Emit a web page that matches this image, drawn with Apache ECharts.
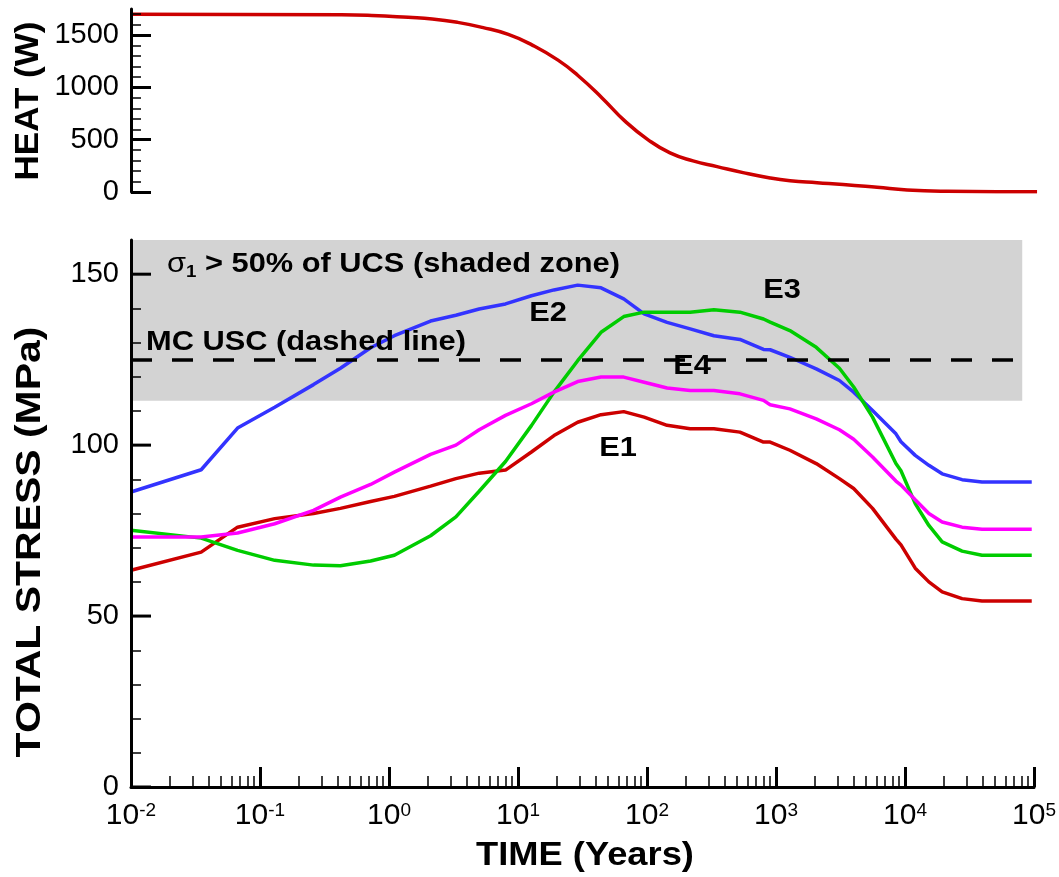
<!DOCTYPE html>
<html>
<head>
<meta charset="utf-8">
<script src="https://cdn.jsdelivr.net/npm/echarts@6/dist/echarts.min.js"></script>
<style>
  html, body { margin: 0; padding: 0; background: #fff; }
  #chart { width: 1059px; height: 877px; }
</style>
</head>
<body>
<div id="chart"></div>
<script>
// --- data ---
var heatTime = [0.01, 0.42, 0.72, 1.37, 2.1, 3.3, 5.1, 8.1, 12.4, 19.6, 27.9, 42.8, 64, 97, 143, 215, 330, 523, 845, 1205, 1945, 3090, 5650, 9620, 19560, 47500, 96600];
var heatWatts = [1700, 1695, 1688, 1670, 1655, 1622, 1574, 1507, 1405, 1261, 1114, 900, 680, 499, 374, 298, 243, 185, 134, 108, 89, 72, 45, 20, 7, 3, 3];

var stressTime = [0.01, 0.035, 0.067, 0.13, 0.26, 0.42, 0.72, 1.1, 2.1, 3.3, 5, 8, 12.7, 19, 29, 44, 66, 95, 143, 216, 330, 525, 800, 900, 1280, 2050, 3100, 4000, 5600, 8500, 9300, 12000, 15300, 19400, 27700, 39500, 96000];
var stressE1 = [63.4, 68.7, 76.0, 78.5, 80.0, 81.5, 83.5, 85.0, 88.0, 90.2, 91.8, 92.7, 98.0, 102.8, 106.7, 108.9, 109.8, 108.2, 105.8, 104.8, 104.8, 103.8, 100.9, 100.9, 98.5, 94.6, 90.2, 87.3, 81.5, 72.5, 70.8, 64.0, 60.0, 57.1, 55.1, 54.4, 54.4];
var stressE2 = [86.3, 92.8, 105.0, 111.1, 117.7, 122.5, 128.5, 132.0, 136.3, 138.0, 139.8, 141.3, 143.7, 145.4, 146.8, 146.0, 142.8, 138.4, 135.9, 134.0, 132.0, 130.9, 128.0, 127.9, 125.7, 122.3, 118.9, 115.5, 110.1, 103.3, 101.0, 97.0, 94.1, 91.6, 89.9, 89.2, 89.2];
var stressE3 = [75.1, 72.8, 69.2, 66.3, 64.9, 64.7, 66.1, 67.8, 73.5, 79.0, 86.5, 95.2, 105.7, 115.5, 124.7, 133.0, 137.6, 138.9, 138.9, 138.9, 139.6, 138.9, 136.9, 136.0, 133.5, 128.6, 122.5, 117.0, 108.2, 94.6, 92.5, 82.9, 76.5, 71.7, 69.0, 67.8, 67.8];
var stressE4 = [73.1, 73.1, 74.3, 77.0, 80.9, 84.8, 88.5, 92.1, 97.3, 100.0, 104.5, 108.7, 112.1, 115.5, 118.6, 119.9, 119.9, 118.4, 116.7, 116.0, 116.0, 115.0, 113.1, 111.8, 110.6, 107.7, 104.5, 101.7, 96.5, 89.5, 88.3, 84.0, 80.0, 77.5, 76.0, 75.4, 75.4];

var heatTicks = [0, 500, 1000, 1500];
var stressTicks = [0, 50, 100, 150];
var shadedZone = [113, 160];   // sigma1 > 50% of UCS
var mcUsc = 125;               // MC USC dashed line

// minor tick positions (log10 space for the time axis)
var xMinor = [];
for (var n = -2; n < 5; n++) {
  for (var k = 2; k <= 9; k++) xMinor.push(n + Math.log10(k));
}
var heatMinor = [];
for (var h = 100; h < 1750; h += 100) if (h % 500) heatMinor.push(h);
var stressMinor = [];
for (var s = 10; s < 160; s += 10) stressMinor.push(s);

function pairs(xs, ys) {
  return xs.map(function(x, i) { return [x, ys[i]]; });
}

var font = '"Liberation Sans", Arial, sans-serif';
var black = '#000';

// labelled axis with the axis line
function mainAxis(grid, max, ticks) {
  return {
    gridIndex: grid, type: 'value', min: 0, max: max, position: 'left', z: 10,
    axisLine: { show: true, onZero: false, lineStyle: { color: black, width: 3 } },
    axisTick: { show: false },
    axisLabel: {
      customValues: ticks, color: black, fontSize: 29, fontFamily: font, margin: 12,
      formatter: function(v) { return String(v); }
    },
    splitLine: { show: false }
  };
}
// tick-only helper axis
function tickAxis(grid, max, ticks, len, w) {
  return {
    gridIndex: grid, type: 'value', min: 0, max: max, position: 'left', z: 10,
    axisLine: { show: false, onZero: false },
    axisTick: { show: true, inside: true, length: len, customValues: ticks.slice(), lineStyle: { color: black, width: w } },
    axisLabel: { show: false },
    splitLine: { show: false }
  };
}

var chart = echarts.init(document.getElementById('chart'), null, { renderer: 'canvas' });

function lineSeries(name, ys, color) {
  return {
    name: name, type: 'line', xAxisIndex: 1, yAxisIndex: 3,
    data: pairs(stressTime, ys),
    showSymbol: false, symbol: 'none',
    lineStyle: { color: color, width: 3.5 },
    z: 3
  };
}

chart.setOption({
  animation: false,
  backgroundColor: '#fff',
  grid: [
    { left: 131, top: 9, width: 908, height: 183 },
    { left: 131, top: 240, width: 908, height: 547 }
  ],
  xAxis: [
    { gridIndex: 0, type: 'log', min: 0.01, max: 1e5, show: false },
    {
      gridIndex: 1, type: 'log', min: 0.01, max: 1e5, interval: 1, position: 'bottom', z: 10,
      axisLine: { show: true, onZero: false, lineStyle: { color: black, width: 3 } },
      axisTick: { show: true, inside: true, length: 20, lineStyle: { color: black, width: 3 } },
      axisLabel: {
        margin: 14,
        formatter: function(v) {
          return '{b|10}{s|' + Math.round(Math.log10(v)) + '}';
        },
        rich: {
          b: { fontSize: 30, fontFamily: font, color: black, lineHeight: 30 },
          s: { fontSize: 19, fontFamily: font, color: black, verticalAlign: 'top', lineHeight: 16 }
        }
      },
      splitLine: { show: false },
      minorTick: { show: false }
    },
    {
      gridIndex: 1, type: 'value', min: -2, max: 5, position: 'bottom', z: 10,
      axisLine: { show: false, onZero: false },
      axisTick: { show: true, inside: true, length: 11, customValues: xMinor, lineStyle: { color: black, width: 1.5 } },
      axisLabel: { show: false },
      splitLine: { show: false }
    }
  ],
  yAxis: [
    mainAxis(0, 1750, heatTicks),
    tickAxis(0, 1750, heatTicks, 20, 3),
    tickAxis(0, 1750, heatMinor, 10, 1.5),
    mainAxis(1, 160, stressTicks),
    tickAxis(1, 160, stressMinor, 10, 1.5)
  ],
  series: [
    {
      name: 'HEAT', type: 'line', xAxisIndex: 0, yAxisIndex: 0,
      data: pairs(heatTime, heatWatts),
      showSymbol: false, symbol: 'none', smooth: 0.5,
      lineStyle: { color: '#cc0000', width: 3.5 }
    },
    {
      name: 'zone', type: 'line', xAxisIndex: 1, yAxisIndex: 3, data: [], z: 1,
      markArea: {
        silent: true,
        itemStyle: { color: '#d3d3d3' },
        data: [[{ coord: [0.01, shadedZone[0]] }, { coord: [81000, shadedZone[1]] }]]
      },
      markLine: {
        silent: true, symbol: 'none',
        label: { show: false },
        lineStyle: { color: black, width: 3.5, type: [21, 20] },
        data: [[{ coord: [0.01, mcUsc] }, { coord: [90000, mcUsc] }]]
      }
    },
    // major ticks of the stress axis, placed through the axis scale
    {
      name: 'stressMajorTicks', type: 'custom', xAxisIndex: 1, yAxisIndex: 3,
      z: 20, silent: true, clip: false,
      data: stressTicks.map(function(v) { return [0.01, v]; }),
      renderItem: function(params, api) {
        var p = api.coord([api.value(0), api.value(1)]);
        return {
          type: 'line',
          shape: { x1: p[0], y1: p[1], x2: p[0] + 20, y2: p[1] },
          style: { stroke: black, lineWidth: 3 }
        };
      }
    },
    lineSeries('E1', stressE1, '#cc0000'),
    lineSeries('E2', stressE2, '#3333ff'),
    lineSeries('E3', stressE3, '#00cc00'),
    lineSeries('E4', stressE4, '#ff00ff')
  ],
  graphic: [
    { type: 'text', x: 29, y: 101, rotation: Math.PI / 2, scaleX: 1.03, style: { text: 'HEAT (W)', font: 'bold 34px ' + font, fill: black, align: 'center', verticalAlign: 'middle' } },
    { type: 'text', x: 30, y: 542, rotation: Math.PI / 2, scaleX: 1.17, style: { text: 'TOTAL STRESS (MPa)', font: 'bold 35px ' + font, fill: black, align: 'center', verticalAlign: 'middle' } },
    { type: 'text', x: 585, y: 856, scaleX: 1.1, style: { text: 'TIME (Years)', font: 'bold 33px ' + font, fill: black, align: 'center', verticalAlign: 'middle' } },
    {
      type: 'text', x: 167, y: 264, scaleX: 1.1, z: 10,
      style: {
        text: '{g|σ}{sub|1}{b| > 50% of UCS (shaded zone)}',
        fill: black, align: 'left', verticalAlign: 'middle',
        rich: {
          g: { font: '28px ' + font, fill: black, lineHeight: 34 },
          sub: { font: 'bold 17px ' + font, fill: black, verticalAlign: 'bottom', lineHeight: 34 },
          b: { font: 'bold 28px ' + font, fill: black, lineHeight: 34 }
        }
      }
    },
    { type: 'text', x: 146, y: 342, scaleX: 1.1, z: 10, style: { text: 'MC USC (dashed line)', font: 'bold 28px ' + font, fill: black, align: 'left', verticalAlign: 'middle' } },
    { type: 'text', x: 548, y: 313, scaleX: 1.1, z: 10, style: { text: 'E2', font: 'bold 28px ' + font, fill: black, align: 'center', verticalAlign: 'middle' } },
    { type: 'text', x: 782, y: 290, scaleX: 1.1, z: 10, style: { text: 'E3', font: 'bold 28px ' + font, fill: black, align: 'center', verticalAlign: 'middle' } },
    { type: 'text', x: 692, y: 366, scaleX: 1.1, z: 10, style: { text: 'E4', font: 'bold 28px ' + font, fill: black, align: 'center', verticalAlign: 'middle' } },
    { type: 'text', x: 618, y: 448, scaleX: 1.1, z: 10, style: { text: 'E1', font: 'bold 28px ' + font, fill: black, align: 'center', verticalAlign: 'middle' } }
  ]
});
</script>
</body>
</html>
